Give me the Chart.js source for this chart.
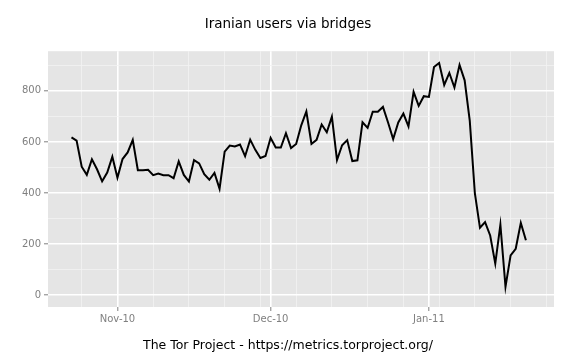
<!DOCTYPE html>
<html>
<head>
<meta charset="utf-8">
<script src="https://cdn.jsdelivr.net/npm/chart.js@4"></script>
<style>
  body { margin: 0; background: #fff; }
  #wrap { width: 576px; height: 360px; }
</style>
</head>
<body>
<div id="wrap"><canvas id="myChart" width="576" height="360"></canvas></div>
<script>
// daily users, first value is 2010-10-23
let firstDay = "2010-10-23";
let users = [
  618, 605, 503, 471, 532, 493, 446, 480, 542,
  460, 533, 559, 608, 489, 489, 491, 470, 476, 470,
  470, 458, 524, 471, 445, 529, 516, 474, 452, 479,
  417, 562, 586, 582, 590, 544, 609, 569, 537, 545,
  616, 578, 578, 634, 576, 592, 665, 719, 592, 608,
  668, 638, 699, 529, 587, 607, 525, 528, 677, 655,
  718, 718, 737, 676, 611, 676, 711, 661, 796, 741,
  779, 776, 893, 909, 823, 870, 813, 901, 841, 683,
  400, 264, 286, 234, 124, 276, 33, 156, 182, 283,
  215
];

// month labels on the x axis
let monthDates = ["2010-11-01", "2010-12-01", "2011-01-01"];
let monthLabels = ["Nov-10", "Dec-10", "Jan-11"];

// y axis
let yLabels = [0, 200, 400, 600, 800];
let yMinor = [100, 300, 500, 700, 900];

const DAY = 86400000;
function dayNum(s) {
  return Math.round(Date.parse(s + "T00:00:00Z") / DAY);
}

let start = dayNum(firstDay);
let points = users.map(function (v, i) {
  return { x: start + i, y: v };
});

let monthDays = monthDates.map(dayNum);

// weekly minor lines (mondays)
let mondays = [];
for (let d = dayNum("2010-10-18"); d <= dayNum("2011-01-31"); d += 7) {
  if (monthDays.indexOf(d) < 0) mondays.push(d);
}

let nov1 = dayNum("2010-11-01");

// grey panel behind the grid
const panelBg = {
  id: "panelBg",
  beforeDraw(chart) {
    const a = chart.chartArea;
    const c = chart.ctx;
    c.save();
    c.fillStyle = "#e5e5e5";
    c.fillRect(a.left, a.top, a.right - a.left, a.bottom - a.top);
    c.restore();
  }
};

function isMajorX(v) { return monthDays.indexOf(v) >= 0; }
function isMajorY(v) { return yLabels.indexOf(v) >= 0; }

const ctx = document.getElementById("myChart");

new Chart(ctx, {
  type: "line",
  data: {
    datasets: [{
      data: points,
      borderColor: "#000000",
      borderWidth: 2,
      pointRadius: 0,
      tension: 0,
      fill: false
    }]
  },
  options: {
    responsive: false,
    animation: false,
    layout: { padding: 0 },
    plugins: {
      legend: { display: false },
      tooltip: { enabled: false },
      title: {
        display: true,
        text: "Iranian users via bridges",
        color: "#000",
        font: { family: "DejaVu Sans", size: 13.5, weight: "normal" },
        padding: { top: 16, bottom: 19 }
      },
      subtitle: {
        display: true,
        position: "bottom",
        text: "The Tor Project - https://metrics.torproject.org/",
        color: "#000",
        font: { family: "DejaVu Sans", size: 12.5, weight: "normal" },
        padding: { top: 11, bottom: 7 }
      }
    },
    scales: {
      x: {
        type: "linear",
        min: nov1 - 13.6,
        max: nov1 + 85.5,
        border: { display: false },
        afterBuildTicks: function (scale) {
          let t = monthDays.concat(mondays).filter(function (d) {
            return d >= scale.min && d <= scale.max;
          });
          scale.ticks = t.map(function (d) { return { value: d }; });
        },
        afterFit: function (scale) { scale.height = 20; },
        ticks: {
          autoSkip: false,
          maxRotation: 0,
          padding: 2,
          color: "#7f7f7f",
          font: { family: "DejaVu Sans", size: 10 },
          callback: function (v) {
            let i = monthDays.indexOf(v);
            return i >= 0 ? monthLabels[i] : "";
          }
        },
        grid: {
          color: function (c) { return c.tick && isMajorX(c.tick.value) ? "#ffffff" : "#f2f2f2"; },
          lineWidth: function (c) { return c.tick && isMajorX(c.tick.value) ? 1.6 : 0.8; },
          tickColor: function (c) { return c.tick && isMajorX(c.tick.value) ? "#7f7f7f" : "rgba(0,0,0,0)"; },
          tickLength: 4,
          tickWidth: 1
        }
      },
      y: {
        min: -46,
        max: 955,
        border: { display: false },
        afterBuildTicks: function (scale) {
          scale.ticks = yLabels.concat(yMinor).sort(function (a, b) { return a - b; })
            .map(function (v) { return { value: v }; });
        },
        afterFit: function (scale) { scale.width = 48; },
        ticks: {
          autoSkip: false,
          padding: 3,
          color: "#7f7f7f",
          font: { family: "DejaVu Sans", size: 10 },
          callback: function (v) { return isMajorY(v) ? String(v) : ""; }
        },
        grid: {
          color: function (c) { return c.tick && isMajorY(c.tick.value) ? "#ffffff" : "#f2f2f2"; },
          lineWidth: function (c) { return c.tick && isMajorY(c.tick.value) ? 1.6 : 0.8; },
          tickColor: function (c) { return c.tick && isMajorY(c.tick.value) ? "#7f7f7f" : "rgba(0,0,0,0)"; },
          tickLength: 4,
          tickWidth: 1
        }
      },
      // empty right margin so the titles stay centred on the whole picture
      yRight: {
        position: "right",
        display: true,
        border: { display: false },
        grid: { display: false },
        ticks: { display: false },
        afterFit: function (scale) { scale.width = 22; }
      }
    }
  },
  plugins: [panelBg]
});
</script>
</body>
</html>
